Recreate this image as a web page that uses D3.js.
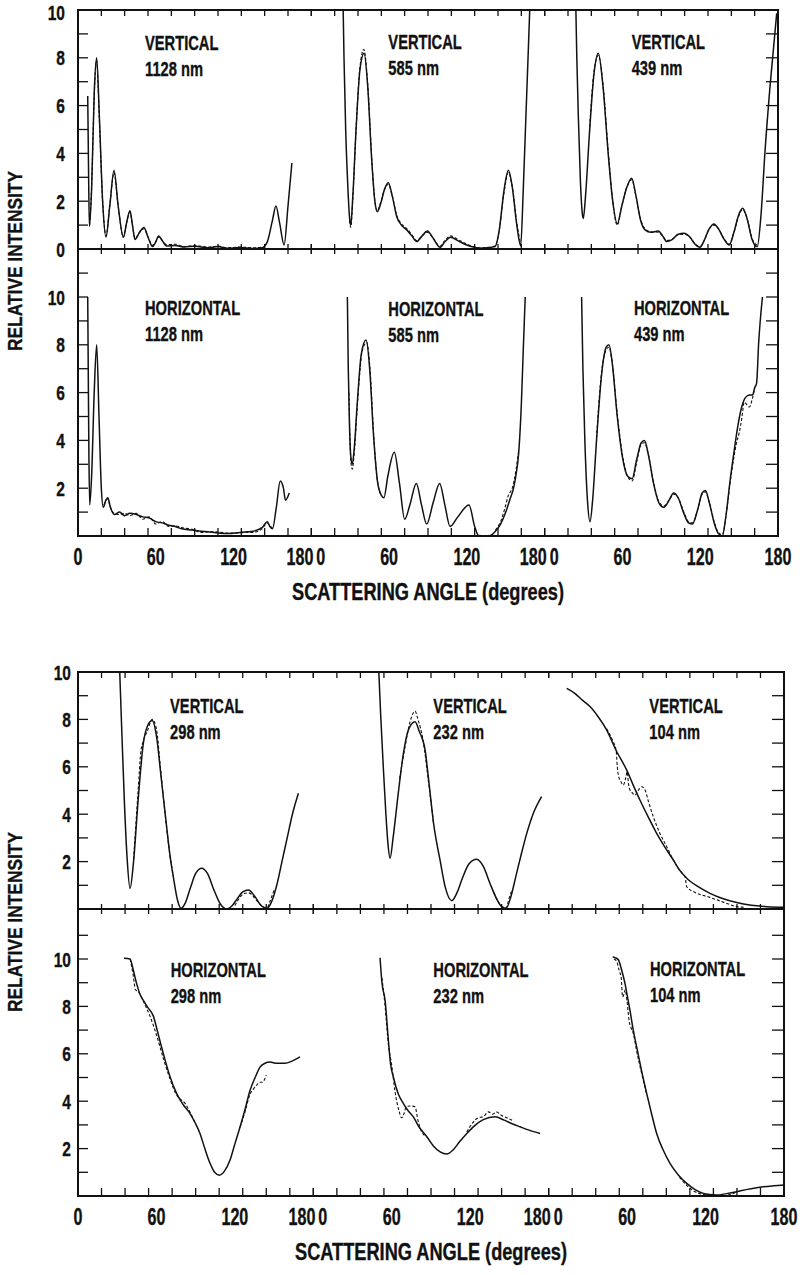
<!DOCTYPE html>
<html><head><meta charset="utf-8">
<script src="https://cdn.jsdelivr.net/npm/d3@7"></script>
<style>
body{margin:0;background:#fff}
text{font-family:"Liberation Sans",Arial,sans-serif;font-weight:bold;fill:#111;stroke:#111;stroke-width:0.35px}
</style></head>
<body><svg id="c" width="800" height="1275"></svg>
<script>
// ---------- tick / label data ----------
const angleTicks = d3.range(0, 181, 18);
const xTickLabels = [0, 60, 120, 180];
const yLabelsFirst = [0, 2, 4, 6, 8, 10];
const yLabelsOther = [2, 4, 6, 8, 10];
const polarizations = ["VERTICAL", "HORIZONTAL"];
const wavelengthsTop = ["1128 nm", "585 nm", "439 nm"];
const wavelengthsBottom = ["298 nm", "232 nm", "104 nm"];

// ---------- theory curves (solid) [angle, relative intensity] ----------
const v1128 = [[7.5,6.4],[8.2,3.0],[8.8,0.95],[10.5,2.5],[12.5,6.5],[14.4,8.0],[16.5,5.5],[19,2.0],[21.6,0.5],[24.5,1.8],[27.8,3.28],[31,1.8],[35,0.49],[37.5,1.1],[40.1,1.6],[42,1.0],[44,0.4],[47.5,0.7],[50.9,0.9],[54,0.5],[57.6,0.1],[60,0.3],[62.2,0.54],[65,0.35],[68.4,0.13],[75,0.15],[82,0.08],[90,0.12],[100,0.05],[108,0.1],[115,0.03],[125,0.06],[135,0.02],[142,0.05],[146,0.3],[150,1.2],[152.7,1.8],[155.5,1.1],[159,0.17],[162,1.8],[165,3.6]];
const v585 = [[24.4,10.5],[25.2,8],[26.5,5],[28,2.8],[29.5,1.3],[30.4,1.0],[32,2.2],[34.5,5],[37.5,7.5],[40.7,8.19],[43.5,6.8],[46.5,3.8],[49,2.0],[50.9,1.56],[53.5,1.9],[56.5,2.5],[59.4,2.77],[62.5,2.2],[65.9,1.35],[69.5,1.0],[73.6,0.8],[77.5,0.55],[81.3,0.31],[85.5,0.55],[89.5,0.75],[94,0.45],[99.3,0.07],[103,0.3],[107.5,0.49],[113,0.35],[119.9,0.17],[125,0.08],[130,0.03],[136,0.05],[141.7,0.1],[145,0.8],[148.5,2.4],[152,3.3],[155,2.6],[158.5,1.0],[161.5,0.13],[163.5,2.5],[165.5,5.5],[167.5,8.5],[168.8,10.5]];
const v439 = [[23.9,10.5],[24.8,8],[26,5.5],[27.6,2.8],[29,1.5],[29.8,1.28],[31.5,2.2],[34.5,4.8],[38,7.3],[41.4,8.19],[45,6.8],[49,4.0],[52.5,2.0],[56,1.05],[59.5,1.8],[63.5,2.6],[67.1,2.96],[70.5,2.2],[74,1.2],[77.4,0.8],[82,0.7],[87.6,0.75],[91,0.55],[94.1,0.31],[98,0.38],[103,0.62],[107.5,0.66],[112,0.5],[116,0.2],[119.8,0.07],[123,0.35],[127,0.85],[130.6,1.05],[134,0.85],[138.5,0.4],[142.4,0.17],[146,0.7],[149.5,1.4],[152.7,1.7],[156,1.3],[160,0.4],[164,0.1],[167,1.5],[170,4.1],[174,6.9],[179,9.86]];
const h1128 = [[7.5,10],[7.9,7],[8.4,3.5],[9,1.3],[10.5,2.5],[12.5,6],[14.4,8.0],[16.2,5],[18,2],[19.5,1.2],[21.5,1.5],[23,1.6],[25,1.2],[28,0.9],[32,1.0],[36,0.85],[40,0.95],[45,0.9],[50,0.8],[55,0.75],[60,0.6],[65,0.55],[70,0.45],[75,0.4],[80,0.3],[88,0.25],[95,0.2],[105,0.15],[115,0.1],[125,0.15],[135,0.2],[142,0.35],[146,0.6],[148,0.4],[150,0.3],[153,1.2],[156,2.3],[158.5,2.0],[160,1.5],[163,1.8]];
const h585 = [[27.8,10],[28.5,7],[29.5,4.5],[30.5,3.3],[31.6,3.0],[33,3.6],[35.5,5.6],[38.5,7.6],[42.2,8.2],[45,7.0],[48,4.2],[51,2.3],[54,1.7],[56,1.6],[59,2.5],[64,3.5],[68,2.2],[72,0.7],[76,1.3],[81,2.2],[85,1.3],[89,0.5],[94,1.4],[99,2.2],[103,1.3],[107,0.4],[113,0.8],[121.6,1.3],[126,0.4],[129,0.02],[134,0],[138,0.02],[142,0.2],[146,0.5],[150,1.0],[153,1.5],[156,2.0],[158,2.6],[160,3.5],[162,5.5],[163.5,7.8],[165,10]];
const h439 = [[28.5,10],[29.5,7],[31,4],[33,1.5],[35,0.6],[37,1.5],[40,4],[44,6.8],[47.5,7.9],[49.6,8.0],[52,7.3],[56,5],[60,3.3],[64,2.5],[67.5,2.4],[71,3.2],[74.5,3.9],[77,4.0],[80,3.4],[84,2.2],[88,1.4],[92,1.2],[96,1.5],[99.5,1.8],[103,1.6],[107,1.0],[111,0.55],[114,0.5],[118,1.1],[121.5,1.8],[124,1.9],[127,1.4],[131,0.5],[134,0.1],[137,0],[140,0.9],[143,2.3],[146,3.5],[149,4.6],[152,5.4],[155,5.8],[158,5.9],[160.4,5.9],[162,6.2],[163.5,6.4],[165,8],[168,10]];
const v298 = [[31.6,10.5],[33.5,7.5],[35.5,4.5],[37.5,2.2],[39.8,0.87],[42.5,2.0],[46,4.6],[50,7.0],[53,7.7],[56.8,7.95],[60,7.3],[63.5,5.6],[67.8,3.47],[70.5,2.2],[72.9,1.36],[76,0.4],[78.8,0.03],[82,0.25],[86,0.9],[90,1.5],[94.6,1.72],[99,1.5],[104,0.8],[109,0.2],[113.8,0],[118,0.15],[122,0.45],[126,0.72],[130.4,0.8],[135,0.55],[140,0.15],[144.6,0.03],[148,0.3],[152,1.0],[156,2.0],[160,3.0],[164,4.0],[168.6,4.88]];
const v232 = [[49.7,10.5],[51.5,8.2],[53.5,6],[55.5,4],[57,2.8],[58.7,2.14],[61,3.0],[65,4.9],[69,6.6],[73,7.6],[77.8,7.9],[81,7.5],[85.5,6.7],[88.5,5.3],[92,3.6],[96.9,2.07],[101,0.9],[105.9,0.35],[110,0.7],[114,1.3],[119,1.9],[125,2.1],[130,1.8],[135,1.1],[140,0.45],[144,0.1],[147.4,0.03],[151,0.5],[155,1.4],[159,2.3],[163.3,3.2],[168,4.0],[174.6,4.74]];
const v104 = [[13.8,9.31],[20,9.1],[26,8.8],[31.6,8.54],[38,8.1],[44.4,7.55],[51.5,6.7],[59.7,5.86],[64.5,5.25],[69.8,4.6],[76,3.9],[82.6,3.19],[89,2.6],[95.3,2.07],[100,1.65],[105.6,1.3],[114,0.95],[123.4,0.66],[133,0.44],[143.8,0.27],[155,0.16],[167,0.1],[180,0.07]];
const h298 = [[35.2,10.03],[39.8,10.0],[42,9.6],[44.9,8.95],[47.5,8.5],[50,8.25],[53.5,7.95],[57.6,7.6],[61,6.9],[65.3,6.0],[70,5.1],[75.5,4.32],[80.5,3.85],[85.7,3.48],[89.5,3.1],[93.3,2.64],[97,2.0],[101,1.38],[104.5,1.0],[108.1,0.88],[112,1.05],[116.3,1.52],[120,2.2],[124,2.92],[128,3.7],[131.6,4.46],[135.5,5.0],[139.2,5.44],[143,5.6],[146.9,5.65],[152,5.6],[158,5.6],[164,5.7],[169.8,5.87]];
const h232 = [[51,10.05],[52.5,9.0],[54.9,8.25],[57.4,6.57],[59,5.6],[61.2,5.02],[65,4.3],[68.9,3.9],[72.5,3.6],[76.5,3.34],[81,2.9],[86.8,2.5],[92,2.1],[97,1.86],[102,1.77],[107,1.95],[112,2.3],[117.4,2.64],[123,2.95],[130,3.22],[139,3.34],[146,3.2],[152,3.05],[158.1,2.92],[165,2.78],[173.4,2.64]];
const h104 = [[49,10.08],[51,10.05],[53.3,9.97],[55.5,9.6],[58.4,8.96],[60.3,8.4],[62.2,7.83],[64.7,7.0],[67.3,6.29],[71,5.3],[75,4.32],[78.8,3.45],[82.6,2.64],[87.5,1.95],[92.8,1.38],[99,0.9],[105.6,0.53],[112,0.27],[118.3,0.11],[123,0.06],[128.5,0.04],[136,0.1],[143.8,0.18],[152,0.28],[158,0.34],[164.2,0.39],[172,0.43],[180,0.46]];

// ---------- measured curves (dashed), as segments ----------
const v1128D = [[[9,1.0],[10.5,2.6],[12.5,6.4],[14.3,7.9],[16.5,5.4],[19,2.0],[21.6,0.55],[24.5,1.8],[27.8,3.2],[31,1.8],[35,0.5],[37.5,1.1],[40.1,1.55],[42,1.0],[44,0.45],[47.5,0.7],[50.9,0.85],[54,0.5],[57.6,0.15],[60,0.3],[62.2,0.5],[65,0.35],[68.4,0.18],[75,0.2],[82,0.1],[90,0.15],[100,0.08],[108,0.12],[115,0.05],[125,0.08],[135,0.05],[142,0.08]]];
const v585D = [[[29.5,1.2],[30.4,0.9],[32,2.1],[34.5,5],[37.5,7.6],[40.5,8.35],[43.5,6.9],[46.5,3.9],[49,2.0],[50.9,1.6],[53.5,1.95],[56.5,2.5],[59.4,2.7],[62.5,2.2],[65.9,1.4],[69.5,1.05],[73.6,0.85],[77.5,0.6],[81.3,0.35],[85.5,0.55],[89.5,0.7],[94,0.45],[99.3,0.12],[103,0.35],[107.5,0.55],[113,0.4],[119.9,0.2],[125,0.1],[130,0.05],[136,0.07],[141.7,0.12],[145,0.8],[148.5,2.3],[152,3.2],[155,2.6],[158.5,1.1],[161.5,0.2]]];
const v439D = [[[34.5,4.9],[38,7.4],[41.4,8.1],[45,6.9],[49,4.1],[52.5,2.0],[56,1.0],[59.5,1.8],[63.5,2.6],[67.1,2.9],[70.5,2.2],[74,1.25],[77.4,0.85],[82,0.72],[87.6,0.7],[91,0.55],[94.1,0.35],[98,0.4],[103,0.6],[107.5,0.62],[112,0.5],[116,0.22],[119.8,0.1],[123,0.35],[127,0.85],[130.6,1.0],[134,0.85],[138.5,0.42],[142.4,0.2],[146,0.7],[149.5,1.35],[152.7,1.65],[156,1.3],[160,0.45],[164,0.15]]];
const h1128D = [[[20,1.3],[23,1.55],[25,1.2],[28,0.95],[32,0.9],[36,0.95],[40,0.85],[45,0.95],[50,0.7],[55,0.8],[60,0.5],[65,0.6],[70,0.4],[75,0.42],[80,0.35],[88,0.28],[95,0.15],[105,0.18],[115,0.12],[125,0.14],[135,0.15],[142,0.3],[146,0.55],[148,0.42],[150,0.35]]];
const h585D = [[[29,6],[30.3,3.3],[31.6,2.8],[33,3.4],[36,5.9],[39.5,7.8],[42.8,8.1],[45.5,6.8],[48,4.3],[51,2.3],[54,1.7]],[[142,0.25],[146,0.6],[149,1.1],[152,1.7],[155,2.0],[158,2.8],[160,3.6]]];
const h439D = [[[40,4.1],[44,6.9],[47.5,7.8],[49.6,7.9],[52,7.3],[56,5.1],[60,3.4],[64,2.5],[67.5,2.3],[71,3.1],[74.5,3.85],[77,3.9],[80,3.4],[84,2.25],[88,1.45],[92,1.25],[96,1.5],[99.5,1.75],[103,1.6],[107,1.05],[111,0.6],[114,0.55],[118,1.1],[121.5,1.75],[124,1.85],[127,1.4],[131,0.55],[134,0.15],[137,0.05],[140,0.9],[143,2.2],[146,3.3],[148,3.9],[150,4.3],[152,4.9],[154,5.6],[156,5.5],[158,5.4],[160,5.7],[162,6.2]]];
const v298D = [[[42.5,2.1],[46,5.0],[48,6.6],[50,7.1],[53,7.5],[56.8,8.0],[60,7.6],[63,6.0],[67.8,3.4],[70.5,2.2],[72.9,1.4]],[[120,0.15],[124,0.5],[127,0.65],[130.4,0.68],[133,0.6],[136,0.4],[141,0.12],[144.6,0.05],[147,0.35],[150,0.8]]];
const v232D = [[[66,5.5],[70,6.8],[74,7.9],[77.8,8.35],[80,8.0],[84,7.1],[88,5.4],[92,3.6]],[[138,0.7],[141,0.35],[144,0.12],[147.4,0.05],[150,0.5],[152,0.8]]];
const v104D = [[[44.4,7.6],[49,7.1],[51.6,6.7],[52.5,6.0],[53.3,5.65],[55,5.4],[57.1,5.23],[58.8,5.5],[60.1,5.79],[61,5.3],[62.2,5.02],[64,4.9],[66,4.8],[68.5,5.0],[71.1,5.16],[73.7,5.02],[76.5,4.5],[80,3.9],[85,3.2],[90.3,2.63],[95.3,2.07],[100,1.65],[103,1.45],[104.3,1.36],[105.6,0.94],[112,0.7],[123.4,0.49],[134,0.28],[143.8,0.1],[150,0.07]]];
const h298D = [[[39.8,10.0],[42,9.4],[44,8.7],[46.5,8.6],[48.5,8.4],[51,8.1],[55,7.6],[60,6.8],[65.3,5.8],[70,5.0],[75,4.3],[78,4.1],[82,3.9],[86,3.5],[89.5,3.1]],[[124,2.9],[128,3.6],[131.6,4.3],[134,4.5],[137,4.7],[139,4.8],[141,4.8],[144,5.1]]];
const h232D = [[[52.5,9.2],[54.9,8.0],[57.4,6.4],[60,5.5],[62.5,4.4],[65.5,3.6],[67.5,3.3],[69.5,3.5],[71,3.76],[74,3.8],[77.8,3.76],[80,3.2],[83,2.7],[86.8,2.5]],[[117.4,2.7],[122,3.1],[126,3.3],[130,3.35],[134,3.55],[137,3.45],[140,3.55],[144,3.4],[148,3.3],[152,3.2]]];
const h104D = [[[50,10.0],[52,9.9],[54,9.5],[55.5,9.2],[56.5,8.4],[57.5,8.5],[58.5,8.7],[60,8.2],[61.5,7.4],[63,7.1],[65,6.8],[67,6.2],[71,5.2],[75,4.3]],[[100,0.8],[105.6,0.45],[112,0.18],[120,0.05],[130,0.0],[138,0.05],[145,0.2]]];

// ---------- layout ----------
const blocks = [
  {left:78, right:778, top:10,  sep:249, bottom:536,  lblRight:65, upperLabels:yLabelsFirst, names:wavelengthsTop},
  {left:78, right:784, top:672, sep:909, bottom:1196, lblRight:71, upperLabels:yLabelsOther, names:wavelengthsBottom}
];
const panels = [
  {b:0,row:0,col:0,solid:v1128,dash:v1128D,lab:[51.7,8.33]},
  {b:0,row:0,col:1,solid:v585, dash:v585D, lab:[59.4,8.36]},
  {b:0,row:0,col:2,solid:v439, dash:v439D, lab:[67.1,8.37]},
  {b:0,row:1,col:0,solid:h1128,dash:h1128D,lab:[51.7,9.25]},
  {b:0,row:1,col:1,solid:h585, dash:h585D, lab:[59.4,9.2]},
  {b:0,row:1,col:2,solid:h439, dash:h439D, lab:[68.9,9.25]},
  {b:1,row:0,col:0,solid:v298, dash:v298D, lab:[70.4,8.28]},
  {b:1,row:0,col:1,solid:v232, dash:v232D, lab:[91.8,8.26]},
  {b:1,row:0,col:2,solid:v104, dash:v104D, lab:[77,8.26]},
  {b:1,row:1,col:0,solid:h298, dash:h298D, lab:[70.9,9.26]},
  {b:1,row:1,col:1,solid:h232, dash:h232D, lab:[91.8,9.26]},
  {b:1,row:1,col:2,solid:h104, dash:h104D, lab:[77.5,9.3]}
];

const svg = d3.select("#c");
const defs = svg.append("defs");
const ink = "#111";

function ctext(g, x, y, str, size, anchor, sx) {
  return g.append("text")
    .attr("transform", `translate(${x},${y}) scale(${sx},1)`)
    .attr("text-anchor", anchor || "start")
    .attr("font-size", size)
    .text(str);
}

blocks.forEach((B, bi) => {
  const g = svg.append("g");
  const w = (B.right - B.left) / 3;
  const unit = (B.sep - B.top) / 10;
  const lowMax = (B.bottom - B.sep) / unit;
  B.xs = [0,1,2].map(i => d3.scaleLinear().domain([0,180]).range([B.left + i*w, B.left + (i+1)*w]));
  B.ys = [d3.scaleLinear().domain([0,10]).range([B.sep, B.top]),
          d3.scaleLinear().domain([0,lowMax]).range([B.bottom, B.sep])];

  // frame
  g.append("rect").attr("x", B.left).attr("y", B.top).attr("width", B.right-B.left).attr("height", B.bottom-B.top)
    .attr("fill","none").attr("stroke",ink).attr("stroke-width",2);
  g.append("line").attr("x1",B.left).attr("x2",B.right).attr("y1",B.sep).attr("y2",B.sep).attr("stroke",ink).attr("stroke-width",1.8);

  // x ticks
  B.xs.forEach(xs => {
    angleTicks.forEach(t => {
      const x = xs(t);
      g.append("line").attr("x1",x).attr("x2",x).attr("y1",B.top).attr("y2",B.top+6).attr("stroke",ink).attr("stroke-width",1.3);
      g.append("line").attr("x1",x).attr("x2",x).attr("y1",B.sep-5).attr("y2",B.sep+5).attr("stroke",ink).attr("stroke-width",1.3);
      g.append("line").attr("x1",x).attr("x2",x).attr("y1",B.bottom).attr("y2",B.bottom-8).attr("stroke",ink).attr("stroke-width",1.3);
    });
  });
  // y ticks and labels
  B.ys.forEach((ys, r) => {
    const maxT = r === 0 ? 9 : Math.floor(lowMax - 0.2);
    d3.range(1, maxT+1).forEach(v => {
      const y = ys(v);
      g.append("line").attr("x1",B.left).attr("x2",B.left+10).attr("y1",y).attr("y2",y).attr("stroke",ink).attr("stroke-width",1.3);
      g.append("line").attr("x1",B.right).attr("x2",B.right-12).attr("y1",y).attr("y2",y).attr("stroke",ink).attr("stroke-width",1.3);
    });
    const labs = r === 0 ? B.upperLabels : yLabelsOther;
    labs.forEach(v => ctext(g, B.lblRight, Math.max(ys(v) + 7.5, 20), String(v), 21, "end", 0.74));
  });
  // x tick labels
  const ly = B.bottom + 29;
  B.xs.forEach((xs, i) => {
    xTickLabels.forEach(t => {
      let x = xs(t), anchor = "middle";
      if (t === 180 && i < 2) { x = xs(t) + 2; anchor = "end"; }
      if (t === 0 && i > 0) { x = xs(t) + 5; anchor = "start"; }
      ctext(g, x, ly, String(t), 23, anchor, 0.7);
    });
  });
  // axis titles
  const cy = (B.top + B.bottom) / 2 - 12;
  g.append("text").attr("transform", `translate(22,${cy}) rotate(-90)`).attr("text-anchor","middle")
    .attr("font-size",20).attr("textLength",180).attr("lengthAdjust","spacingAndGlyphs").text("RELATIVE INTENSITY");
  g.append("text").attr("x", (B.left + B.right)/2).attr("y", B.bottom + 64).attr("text-anchor","middle")
    .attr("font-size",23).attr("textLength",272).attr("lengthAdjust","spacingAndGlyphs").text("SCATTERING ANGLE (degrees)");
});

panels.forEach((p, k) => {
  const B = blocks[p.b];
  const xs = B.xs[p.col], ys = B.ys[p.row];
  const id = "clip" + k;
  const r0 = xs.range(), d0 = ys.range();
  defs.append("clipPath").attr("id", id).append("rect")
    .attr("x", r0[0]).attr("y", d0[1]).attr("width", r0[1]-r0[0]).attr("height", d0[0]-d0[1]);
  const line = d3.line().x(d => xs(d[0])).y(d => ys(d[1])).curve(d3.curveMonotoneX);
  const g = svg.append("g").attr("clip-path", `url(#${id})`);
  p.dash.forEach(seg => {
    g.append("path").attr("d", line(seg)).attr("fill","none").attr("stroke",ink).attr("stroke-width",1.1).attr("stroke-dasharray","3,2");
  });
  g.append("path").attr("d", line(p.solid)).attr("fill","none").attr("stroke",ink).attr("stroke-width",1.5);
  const lx = xs(p.lab[0]), ly = ys(p.lab[1]);
  ctext(svg, lx, ly, polarizations[p.row], 21, "start", 0.7);
  ctext(svg, lx, ly + 26, B.names[p.col], 21, "start", 0.7);
});
</script></body></html>
